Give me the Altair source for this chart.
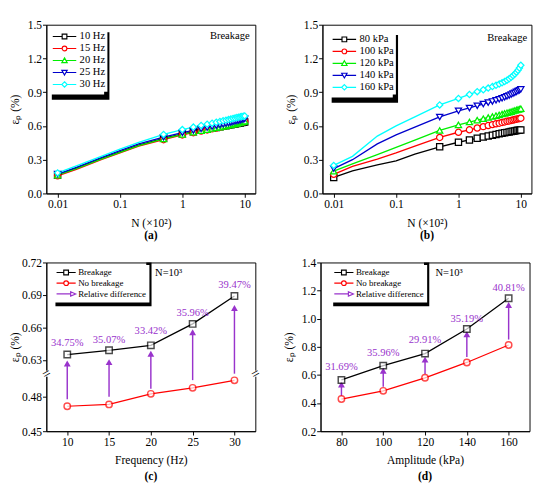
import altair as alt
import pandas as pd

FONT = "Liberation Serif"
PURPLE = "#9933CC"
W, H = 218, 176

# ---------------- data: panels (a) and (b) ----------------
N_VALUES = [0.01, 0.02, 0.05, 0.1, 0.2, 0.5, 1.0, 1.5, 2.0, 2.5, 3.0, 3.5, 4.0,
            4.5, 5.0, 5.5, 6.0, 6.5, 7.0, 7.5, 8.0, 8.5, 9.0, 9.5, 10.0]
N_MARKED = [0.01, 0.5, 1.0, 1.5, 2.0, 2.5, 3.0, 3.5, 4.0, 4.5, 5.0, 5.5, 6.0,
            6.5, 7.0, 7.5, 8.0, 8.5, 9.0, 9.5, 10.0]

FREQ_LABELS = ["10 Hz", "15 Hz", "20 Hz", "25 Hz", "30 Hz"]
FREQ_10 = [0.165, 0.225, 0.31, 0.37, 0.43, 0.49, 0.53, 0.548, 0.561, 0.571, 0.579, 0.586, 0.592,
           0.597, 0.602, 0.606, 0.61, 0.614, 0.618, 0.621, 0.624, 0.627, 0.63, 0.632, 0.635]
FREQ_15 = [0.157, 0.215, 0.30, 0.36, 0.42, 0.478, 0.52, 0.54, 0.554, 0.565, 0.574, 0.582, 0.589,
           0.595, 0.601, 0.606, 0.611, 0.615, 0.619, 0.623, 0.626, 0.63, 0.633, 0.636, 0.639]
FREQ_20 = [0.162, 0.22, 0.305, 0.365, 0.425, 0.485, 0.525, 0.545, 0.558, 0.568, 0.577, 0.584, 0.59,
           0.596, 0.601, 0.606, 0.61, 0.615, 0.619, 0.623, 0.627, 0.631, 0.635, 0.639, 0.643]
FREQ_25 = [0.172, 0.232, 0.318, 0.38, 0.44, 0.50, 0.54, 0.56, 0.574, 0.585, 0.594, 0.602, 0.609,
           0.615, 0.621, 0.626, 0.631, 0.636, 0.641, 0.645, 0.649, 0.653, 0.656, 0.66, 0.663]
FREQ_30 = [0.183, 0.245, 0.33, 0.395, 0.455, 0.525, 0.568, 0.59, 0.605, 0.616, 0.625, 0.633, 0.64,
           0.646, 0.652, 0.657, 0.662, 0.667, 0.671, 0.675, 0.678, 0.681, 0.684, 0.687, 0.689]

AMP_LABELS = ["80 kPa", "100 kPa", "120 kPa", "140 kPa", "160 kPa"]
AMP_80 = [0.142, 0.20, 0.254, 0.29, 0.35, 0.415, 0.455, 0.476, 0.49, 0.502, 0.511, 0.518, 0.524,
          0.53, 0.535, 0.539, 0.543, 0.547, 0.55, 0.553, 0.556, 0.559, 0.561, 0.563, 0.565]
AMP_100 = [0.17, 0.24, 0.305, 0.36, 0.42, 0.498, 0.544, 0.566, 0.582, 0.594, 0.604, 0.612, 0.619,
           0.625, 0.631, 0.636, 0.641, 0.645, 0.649, 0.653, 0.657, 0.66, 0.663, 0.666, 0.669]
AMP_120 = [0.198, 0.263, 0.345, 0.41, 0.475, 0.56, 0.61, 0.635, 0.652, 0.665, 0.675, 0.684, 0.692,
           0.699, 0.706, 0.712, 0.718, 0.723, 0.728, 0.733, 0.738, 0.742, 0.746, 0.75, 0.754]
AMP_140 = [0.221, 0.30, 0.44, 0.52, 0.59, 0.68, 0.735, 0.76, 0.78, 0.795, 0.807, 0.818, 0.828,
           0.837, 0.846, 0.855, 0.863, 0.871, 0.879, 0.887, 0.895, 0.903, 0.911, 0.918, 0.925]
AMP_160 = [0.249, 0.33, 0.51, 0.60, 0.68, 0.787, 0.845, 0.88, 0.905, 0.922, 0.937, 0.95, 0.962,
           0.973, 0.984, 0.995, 1.007, 1.02, 1.033, 1.047, 1.062, 1.078, 1.095, 1.115, 1.14]

SERIES_COLORS = ["#000000", "#FF0000", "#00EE00", "#0000CC", "#00FFFF"]
SERIES_SHAPES = ["square", "circle", "triangle-up", "triangle-down", "diamond"]

# ---------------- data: panels (c) and (d) ----------------
CD_LABELS = ["Breakage", "No breakage", "Relative difference"]
CD_COLORS = ["#000000", "#FF0000", PURPLE]

FREQS = [10, 15, 20, 25, 30]
C_BREAK = [0.635, 0.6389, 0.6435, 0.6633, 0.689]
C_NOBREAK = [0.4717, 0.4733, 0.4825, 0.4877, 0.4942]
C_ARROW_START = [0.4778, 0.48, 0.4869, 0.4944, 0.50]
C_ARROW_HEAD = [0.6267, 0.628, 0.6357, 0.6556, 0.678]
C_DIFF_TEXT = ["34.75%", "35.07%", "33.42%", "35.96%", "39.47%"]
C_TEXT_Y = [0.6457, 0.6486, 0.6568, 0.6736, 0.6988]

AMPS = [80, 100, 120, 140, 160]
D_BREAK = [0.5646, 0.6665, 0.752, 0.9266, 1.146]
D_NOBREAK = [0.4288, 0.4873, 0.580, 0.689, 0.813]
D_ARROW_START = [0.451, 0.517, 0.607, 0.727, 0.852]
D_ARROW_HEAD = [0.532, 0.63, 0.709, 0.89, 1.098]
D_DIFF_TEXT = ["31.69%", "35.96%", "29.91%", "35.19%", "40.81%"]
D_TEXT_Y = [0.653, 0.755, 0.847, 0.998, 1.218]

# ---------------- legend helpers ----------------
# Times-compatible advance widths (per 1000 em) used to size the legend shadow
TIMES_W = {" ": 250, "0": 500, "1": 500, "2": 500, "3": 500, "4": 500, "5": 500, "6": 500,
           "7": 500, "8": 500, "9": 500, "H": 722, "z": 444, "k": 500, "P": 556, "a": 444,
           "B": 667, "r": 333, "e": 444, "g": 500, "N": 722, "o": 500, "b": 500, "l": 278,
           "i": 278, "R": 667, "t": 278, "v": 500, "d": 500, "f": 333, "n": 500, "c": 444}
SYM_SIZE = 49       # legend symbol area -> 3.5 px per path unit
SYM_STROKE = 1.2


def text_w(s, fs):
    return sum(TIMES_W.get(ch, 500) for ch in s) * fs / 1000.0


def f(v):
    return f"{v:.3f}".rstrip("0").rstrip(".")


def marker_paths(x_end, mc, hm):
    """Legend symbol = line from -1 to x_end (units) with a marker centred at mc."""
    l, r = mc - hm, mc + hm
    tw = hm * 0.55
    return {
        "square": f"M-1,0H{f(l)}M{f(r)},0H{f(x_end)}M{f(l)},-{f(hm)}H{f(r)}V{f(hm)}H{f(l)}Z",
        "circle": (f"M-1,0H{f(l)}M{f(r)},0H{f(x_end)}M{f(l)},0A{f(hm)},{f(hm)},0,1,1,{f(r)},0"
                   f"A{f(hm)},{f(hm)},0,1,1,{f(l)},0Z"),
        "triangle-up": (f"M-1,0H{f(mc - tw)}M{f(mc + tw)},0H{f(x_end)}M{f(mc)},-{f(hm * 1.1)}"
                        f"L{f(r + 0.1)},{f(hm * 0.9)}H{f(l - 0.1)}Z"),
        "triangle-down": (f"M-1,0H{f(mc - tw)}M{f(mc + tw)},0H{f(x_end)}M{f(mc)},{f(hm * 1.1)}"
                          f"L{f(r + 0.1)},-{f(hm * 0.9)}H{f(l - 0.1)}Z"),
        "diamond": (f"M-1,0H{f(l - 0.1)}M{f(r + 0.1)},0H{f(x_end)}M{f(mc)},-{f(hm + 0.1)}"
                    f"L{f(r + 0.1)},0L{f(mc)},{f(hm + 0.1)}L{f(l - 0.1)},0Z"),
        "arrow": f"M-1,0H{f(x_end - 1.3)}M{f(x_end - 1.5)},-0.65L{f(x_end)},0L{f(x_end - 1.5)},0.65Z",
    }


def make_legends(x, y, fs, rowpad, pad, label_off, labels, top0):
    """Main legend plus an L-shaped black 'shadow' drawn under its right/bottom edges."""
    main = alt.Legend(title=None, orient="none", legendX=x, legendY=y, direction="vertical",
                      padding=pad, fillColor="white", labelFont=FONT, labelFontSize=fs,
                      labelColor="black", symbolSize=SYM_SIZE, symbolOffset=0,
                      labelOffset=label_off, rowPadding=rowpad, symbolStrokeWidth=SYM_STROKE,
                      zindex=2)
    n = len(labels)
    col = max(-(-(SYM_SIZE ** 0.5 + SYM_STROKE) // 1), fs)   # Vega legend symbol column
    entry_h = fs + 2
    w = 2 * pad + col + label_off + max(text_w(s, fs) for s in labels)
    h = 2 * pad + n * entry_h + (n - 1) * rowpad
    t = 2.5
    X = lambda v: f(v - 1)          # relative to the shadow symbol centre (1, 1)
    path = (f"M-1,-1h0.01v0.01h-0.01Z"
            f"M{X(w - 3)},{X(top0)}H{X(w + t)}V{X(h + t)}H{X(3)}V{X(h - 3)}H{X(w - 3)}Z")
    shadow = alt.Legend(title=None, orient="none", legendX=x, legendY=y, padding=0,
                        symbolType=path, symbolSize=4, symbolFillColor="black",
                        symbolStrokeColor="black", symbolStrokeWidth=0, symbolOpacity=1,
                        labelExpr="''", labelFontSize=1, labelOpacity=0, zindex=1)
    return main, shadow


def axis_x(values, label_expr=None, title=""):
    kw = dict(values=values, title=title, grid=False, tickColor="black", domainColor="black",
              labelColor="black", labelFont=FONT, labelFontSize=12, titleFont=FONT,
              titleFontSize=12, titleFontWeight="normal", titleColor="black", tickSize=4,
              labelPadding=2, titlePadding=8, labelOverlap=False, tickCount=20)
    if label_expr:
        kw["labelExpr"] = label_expr
    return alt.Axis(**kw)


def axis_y(values, fmt):
    return alt.Axis(values=values, format=fmt, title="εₚ (%)", grid=False, tickColor="black",
                    domainColor="black", labelColor="black", labelFont=FONT, labelFontSize=12,
                    titleFont=FONT, titleFontSize=12, titleFontWeight="normal", titleColor="black",
                    tickSize=4, labelPadding=1, titlePadding=0, labelOverlap=False, tickCount=20,
                    minExtent=26, maxExtent=26)


def caption(txt, off):
    return alt.TitleParams(txt, orient="bottom", font=FONT, fontSize=12, fontWeight="bold",
                           color="black", offset=off)


IND_LAYER = dict(shape="independent", stroke="independent", fill="independent",
                 strokeDash="independent")


# ---------------- panels (a), (b) ----------------
def cycle_panel(labels, series, leg_xy, note_xy, cap):
    rows = []
    for lab, vals in zip(labels, series):
        for n, v in zip(N_VALUES, vals):
            rows.append({"N": n, "v": v, "s": lab, "s2": lab, "s3": lab, "sh": "shadow"})
    df = pd.DataFrame(rows)
    dfm = df[df["N"].isin(N_MARKED)]
    paths = marker_paths(6.0, 2.5, 0.7)
    main_leg, shadow_leg = make_legends(leg_xy[0], leg_xy[1], 11, 0.5, 2, 19, labels, 3)

    xs = alt.Scale(type="log", domain=[0.0066, 14.8], nice=False)
    ys = alt.Scale(domain=[0, 1.5], nice=False, zero=False)
    xenc = alt.X("N:Q", scale=xs, axis=axis_x([0.01, 0.1, 1, 10],
                 "datum.value >= 1 ? format(datum.value, 'd') : format(datum.value, '.2~f')",
                 "N (×10²)"))
    yenc = alt.Y("v:Q", scale=ys, axis=axis_y([0, 0.3, 0.6, 0.9, 1.2, 1.5], ".1f"))
    cscale = alt.Scale(domain=labels, range=SERIES_COLORS)

    line = alt.Chart(df).mark_line(strokeWidth=1.4).encode(
        x=xenc, y=yenc, color=alt.Color("s:N", scale=cscale, legend=None), detail="s:N")
    pts = alt.Chart(dfm).mark_point(filled=False, fill="white", size=42, strokeWidth=1.3,
                                    opacity=1).encode(
        x="N:Q", y="v:Q", color=alt.Color("s:N", scale=cscale, legend=None),
        shape=alt.Shape("s2:N", scale=alt.Scale(domain=labels, range=SERIES_SHAPES), legend=None))
    leg = alt.Chart(dfm).mark_point(filled=False, size=SYM_SIZE, opacity=0).encode(
        x="N:Q", y="v:Q",
        stroke=alt.Stroke("s3:N", scale=alt.Scale(domain=labels, range=SERIES_COLORS),
                          legend=main_leg),
        fill=alt.Fill("s3:N", scale=alt.Scale(domain=labels, range=["white"] * 5), legend=main_leg),
        shape=alt.Shape("s3:N", scale=alt.Scale(domain=labels,
                                                range=[paths[s] for s in SERIES_SHAPES]),
                        legend=main_leg))
    shadow = alt.Chart(dfm.head(1)).mark_point(filled=True, color="black", size=4, opacity=0).encode(
        x="N:Q", y="v:Q",
        strokeDash=alt.StrokeDash("sh:N", scale=alt.Scale(domain=["shadow"], range=[[1, 0]]),
                                  legend=shadow_leg))
    note_df = pd.DataFrame({"N": [note_xy[0]], "v": [note_xy[1]], "t": ["Breakage"]})
    note = alt.Chart(note_df).mark_text(align="right", baseline="middle", font=FONT, fontSize=11,
                                        color="black").encode(x="N:Q", y="v:Q", text="t:N")
    return alt.layer(line, pts, leg, shadow, note).resolve_scale(**IND_LAYER).properties(
        width=W, height=H, title=caption(cap, 3))


# ---------------- panels (c), (d) ----------------
def compare_panel(xvals, brk, nobrk, a_start, a_head, dtext, dty, xdomain, xticks, xtitle,
                  ys, yaxis, leg_xy, note_xy, cap, breaks=None):
    rows = []
    for lab, vals in zip(CD_LABELS[:2], [brk, nobrk]):
        for xv, v in zip(xvals, vals):
            rows.append({"x": xv, "v": v, "s": lab, "s2": lab})
    df = pd.DataFrame(rows)
    arr = pd.DataFrame({"x": xvals, "v": a_start, "v2": a_head, "s": CD_LABELS[2],
                        "s2": CD_LABELS[2]})
    legdf = pd.concat([df, arr[["x", "v", "s", "s2"]]], ignore_index=True)
    legdf["s3"] = legdf["s"]
    legdf["sh"] = "shadow"
    paths = marker_paths(4.7, 1.85, 0.7)
    main_leg, shadow_leg = make_legends(leg_xy[0], leg_xy[1], 9.3, 0.2, 3, 14.4, CD_LABELS,
                                        -leg_xy[1])

    xs = alt.Scale(domain=xdomain, nice=False, zero=False)
    xenc = alt.X("x:Q", scale=xs, axis=axis_x(xticks, None, xtitle))
    yenc = alt.Y("v:Q", scale=ys, axis=yaxis)
    cscale = alt.Scale(domain=CD_LABELS, range=CD_COLORS)

    line = alt.Chart(df).mark_line(strokeWidth=1.3).encode(
        x=xenc, y=yenc, color=alt.Color("s:N", scale=cscale, legend=None), detail="s:N")
    pts = alt.Chart(df).mark_point(filled=False, fill="white", size=45, strokeWidth=1.5).encode(
        x="x:Q", y="v:Q", color=alt.Color("s:N", scale=cscale, legend=None),
        shape=alt.Shape("s2:N", scale=alt.Scale(domain=CD_LABELS[:2], range=["square", "circle"]),
                        legend=None))
    rule = alt.Chart(arr).mark_rule(color=PURPLE, strokeWidth=1.5).encode(
        x="x:Q", y="v:Q", y2="v2:Q")
    head = alt.Chart(arr).mark_point(shape="triangle-up", filled=True, color=PURPLE, size=50,
                                     opacity=1).encode(x="x:Q", y="v2:Q")
    tdf = pd.DataFrame({"x": xvals, "v": dty, "t": dtext})
    txt = alt.Chart(tdf).mark_text(font=FONT, fontSize=11, color=PURPLE, baseline="middle").encode(
        x="x:Q", y="v:Q", text="t:N")
    leg = alt.Chart(legdf).mark_point(filled=False, size=SYM_SIZE, opacity=0).encode(
        x="x:Q", y="v:Q",
        stroke=alt.Stroke("s3:N", scale=alt.Scale(domain=CD_LABELS, range=CD_COLORS),
                          legend=main_leg),
        fill=alt.Fill("s3:N", scale=alt.Scale(domain=CD_LABELS, range=["white", "white", PURPLE]),
                      legend=main_leg),
        shape=alt.Shape("s3:N", scale=alt.Scale(domain=CD_LABELS,
                                                range=[paths["square"], paths["circle"],
                                                       paths["arrow"]]),
                        legend=main_leg))
    shadow = alt.Chart(legdf.head(1)).mark_point(filled=True, color="black", size=4,
                                                 opacity=0).encode(
        x="x:Q", y="v:Q",
        strokeDash=alt.StrokeDash("sh:N", scale=alt.Scale(domain=["shadow"], range=[[1, 0]]),
                                  legend=shadow_leg))
    ndf = pd.DataFrame({"x": [note_xy[0]], "v": [note_xy[1]], "t": ["N=10³"]})
    note = alt.Chart(ndf).mark_text(align="left", baseline="middle", font=FONT, fontSize=11,
                                    color="black").encode(x="x:Q", y="v:Q", text="t:N")
    layers = [line, rule, head, pts, txt, leg, shadow, note]
    if breaks is not None:
        bdf = pd.DataFrame({"x": breaks[0], "v": breaks[1], "t": ["="] * len(breaks[0])})
        gap = alt.Chart(bdf).mark_point(shape="square", filled=True, color="white", size=40,
                                        opacity=1).encode(x="x:Q", y="v:Q")
        slash = alt.Chart(bdf).mark_text(font=FONT, fontSize=15, angle=330, color="black",
                                         baseline="middle").encode(x="x:Q", y="v:Q", text="t:N")
        layers += [gap, slash]
    return alt.layer(*layers).resolve_scale(**IND_LAYER).properties(
        width=W, height=H, title=caption(cap, 6))


pa = cycle_panel(FREQ_LABELS, [FREQ_10, FREQ_15, FREQ_20, FREQ_25, FREQ_30],
                 (2.7, 4.8), (12.0, 1.40), "(a)")
pb = cycle_panel(AMP_LABELS, [AMP_80, AMP_100, AMP_120, AMP_140, AMP_160],
                 (6.6, 7.8), (12.6, 1.38), "(b)")

C_YSCALE = alt.Scale(domain=[0.45, 0.50, 0.6173, 0.72], range=[H, 116, 116, 0], nice=False,
                     zero=False)
pc = compare_panel(FREQS, C_BREAK, C_NOBREAK, C_ARROW_START, C_ARROW_HEAD, C_DIFF_TEXT, C_TEXT_Y,
                   [7.5, 32.5], [10, 15, 20, 25, 30], "Frequency (Hz)", C_YSCALE,
                   axis_y([0.45, 0.48, 0.63, 0.66, 0.69, 0.72], ".2f"),
                   (6.5, 2.75), (20.5, 0.710), "(c)", breaks=([7.5, 32.5], [0.56, 0.56]))

D_YSCALE = alt.Scale(domain=[0.2, 1.4], nice=False, zero=False)
pd_ = compare_panel(AMPS, D_BREAK, D_NOBREAK, D_ARROW_START, D_ARROW_HEAD, D_DIFF_TEXT, D_TEXT_Y,
                    [70, 170], [80, 100, 120, 140, 160], "Amplitude (kPa)", D_YSCALE,
                    axis_y([0.2, 0.4, 0.6, 0.8, 1.0, 1.2, 1.4], ".1f"),
                    (10.2, 2.75), (125.0, 1.322), "(d)")

IND = dict(color="independent", stroke="independent", shape="independent", fill="independent",
           strokeDash="independent")
row1 = alt.hconcat(pa, pb, spacing=19).resolve_scale(**IND)
row2 = alt.hconcat(pc, pd_, spacing=19).resolve_scale(**IND)
chart = alt.vconcat(row1, row2, spacing=14).resolve_scale(**IND).configure_view(
    stroke="black", strokeWidth=1).properties(padding=0, background="white")

chart.save("out.html", embed_options={"renderer": "svg", "actions": False})
